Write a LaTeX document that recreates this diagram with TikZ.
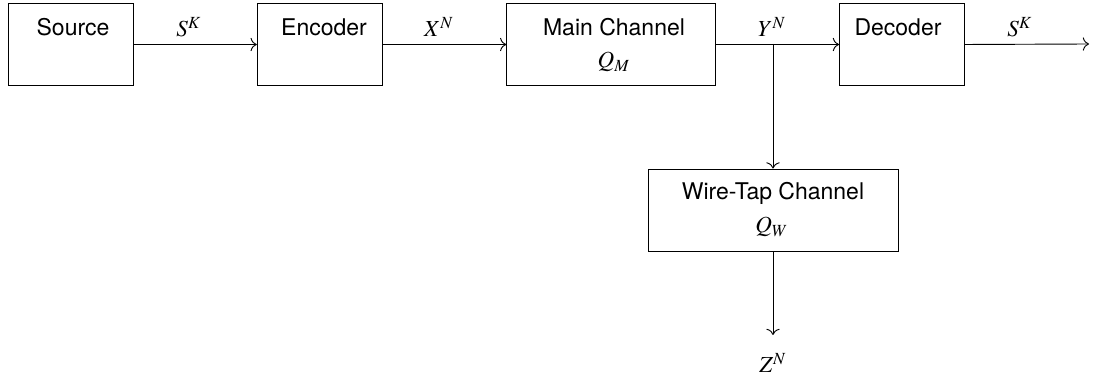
\documentclass[tikz,border=0pt]{standalone}
\usepackage{mathptmx}
\usepackage[no-math]{fontspec}
\setmainfont{TeX Gyre Heros}
\usetikzlibrary{arrows.meta}
\tikzset{
  blk/.style={draw, line width=0.4pt, minimum height={82*0.4348pt}, inner sep=0pt},
  lbl/.style={anchor=base, inner sep=0pt, font=\fontsize{10}{12}\selectfont},
  conn/.style={-{To[length=2.7pt,width=5.8pt]}, line width=0.4pt},
}
\begin{document}
\begin{tikzpicture}[x=0.4348pt, y=-0.4348pt]
\useasboundingbox (0,0) rectangle (1093,376);
% boxes
\node[blk, minimum width={125*0.4348pt}] (src) at (70.5,44.5) {};
\node[blk, minimum width={125.5*0.4348pt}] (enc) at (320,44.5) {};
\node[blk, minimum width={208.5*0.4348pt}] (mc) at (611,44.5) {};
\node[blk, minimum width={125*0.4348pt}] (dec) at (902,44.5) {};
\node[blk, minimum width={250*0.4348pt}] (wt) at (773,210) {};
% box texts
\node[lbl] (tsrc) at (73,36) {Source};
\node[lbl] (tenc) at (324,36) {Encoder};
\node[lbl] (tmc) at (614,36) {Main Channel};
\node[lbl] (tqm) at (614,68) {$Q_M$};
\node[lbl] (tdec) at (898,36) {Decoder};
\node[lbl] (twt) at (773,200) {Wire-Tap Channel};
\node[lbl] (tqw) at (772,233) {$Q_W$};
% coordinates
\coordinate (br) at (773,44);
\coordinate (out) at (1089,44);
\coordinate (zend) at (773,335);
% connectors
\draw[conn] (src.east) -- (enc.west);
\draw[conn] (enc.east) -- (mc.west);
\draw[conn] (mc.east) -- (dec.west);
\draw[conn] (dec.east) -- (out);
\draw[conn] (br) -- (wt.north);
\draw[conn] (wt.south) -- (zend);
% connector labels
\node[lbl] (ls1) at (189,37) {$S^K$};
\node[lbl] (lx) at (439,37) {$X^N$};
\node[lbl] (ly) at (772,37) {$Y^N$};
\node[lbl] (ls2) at (1020,37) {$S^K$};
\node[lbl] (lz) at (773,373) {$Z^N$};
\end{tikzpicture}
\end{document}
